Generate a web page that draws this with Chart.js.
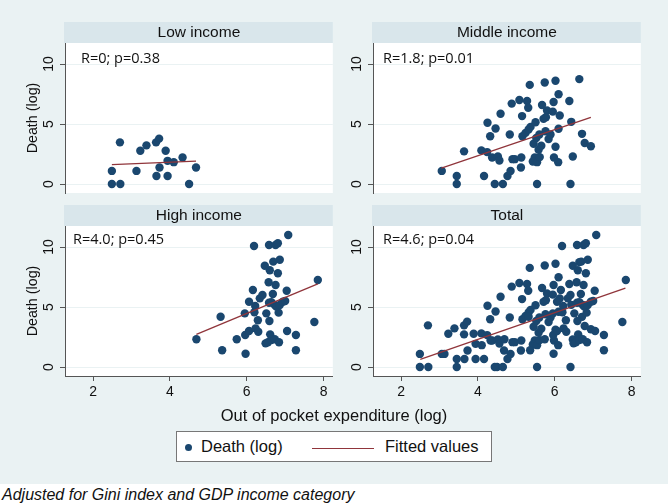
<!DOCTYPE html>
<html>
<head>
<meta charset="utf-8">
<script src="https://cdn.jsdelivr.net/npm/chart.js@4.4.1/dist/chart.umd.min.js"></script>
<style>
  body { margin: 0; width: 668px; height: 504px; background: #fff; position: relative; overflow: hidden;
         font-family: "Liberation Sans", Arial, sans-serif; }
  #bg { position: absolute; left: 0; top: 0; width: 668px; height: 484px; background: #eaf2f3; }
  .pane { position: absolute; }
  #xtitle { position: absolute; left: 0; width: 668px; top: 406px; text-align: center; font-size: 16.5px; color: #111; }
  #legend { position: absolute; left: 176px; top: 431px; width: 314px; height: 29px; background: #fff;
            border: 1px solid #777; font-size: 16.5px; color: #111; }
  #legend .dot { position: absolute; left: 8px; top: 12px; width: 7px; height: 7px; border-radius: 50%; background: #1a476f; }
  #legend .t1 { position: absolute; left: 24px; top: 5px; }
  #legend .ln { position: absolute; left: 135px; top: 16px; width: 62px; height: 0; border-top: 1.3px solid #90353b; }
  #legend .t2 { position: absolute; left: 208px; top: 5px; }
  #foot { position: absolute; left: 2px; top: 486px; font-size: 16px; font-style: italic; color: #111; }
</style>
</head>
<body>
<div id="bg"></div>
<div class="pane" style="left:0;top:0;width:337px;height:200px"><canvas id="c1"></canvas></div>
<div class="pane" style="left:337px;top:0;width:308px;height:200px"><canvas id="c2"></canvas></div>
<div class="pane" style="left:0;top:200px;width:337px;height:210px"><canvas id="c3"></canvas></div>
<div class="pane" style="left:337px;top:200px;width:308px;height:210px"><canvas id="c4"></canvas></div>
<div id="xtitle">Out of pocket expenditure (log)</div>
<div id="legend"><div class="dot"></div><span class="t1">Death (log)</span><div class="ln"></div><span class="t2">Fitted values</span></div>
<div id="foot">Adjusted for Gini index and GDP income category</div>
<script>
const panelTitles = ['Low income', 'Middle income', 'High income', 'Total'];
const notes = ['R=0; p=0.38', 'R=1.8; p=0.01', 'R=4.0; p=0.45', 'R=4.6; p=0.04'];
const xTicks = [2, 4, 6, 8];
const yTicks = [0, 5, 10];

const lowX = [2.70,2.49,2.49,2.71,3.13,3.23,3.39,3.64,3.72,3.89,3.73,3.65,3.94,3.94,4.10,4.33,4.68,4.50];
const lowY = [3.47,1.09,0,0,1.09,2.77,3.22,3.47,3.78,2.77,1.37,0.67,0.67,1.93,1.82,2.21,1.37,0];

const midX = [3.06,3.45,3.45,3.64,4.09,4.24,4.16,4.25,4.46,4.32,4.37,4.52,4.56,4.44,4.65,4.59,4.83,4.88,4.77,4.85,
  4.90,4.96,5.08,5.15,5.28,5.31,5.35,5.16,5.13,5.12,5.24,5.32,5.37,5.50,5.45,5.52,5.58,5.65,5.48,5.43,
  5.54,5.61,5.54,5.67,5.80,5.74,5.71,5.77,5.60,5.76,5.84,5.89,5.95,6.02,5.97,6.10,6.13,6.10,6.02,5.98,
  6.09,6.38,6.43,6.47,6.41,6.64,6.71,6.78,6.94];
const midY = [1.09,0.67,0,2.72,2.80,2.66,0.67,5.10,4.62,3.98,2.21,2.29,1.96,0,0,5.85,4.12,6.70,0.67,1.09,
  2.07,2.07,7.00,5.66,6.92,6.36,8.26,3.98,2.21,1.37,4.26,4.54,4.76,5.15,3.36,3.84,2.86,3.19,2.21,1.87,
  1.82,2.24,0,6.58,6.13,8.46,5.43,5.57,4.12,4.40,3.75,4.12,6.03,8.60,6.83,7.48,5.71,4.60,3.11,2.21,
  1.82,6.92,5.18,2.29,0,8.74,4.18,3.42,3.14];

const highX = [4.69,5.32,5.36,5.74,5.97,5.95,5.96,6.06,6.06,6.20,6.22,6.16,6.19,6.29,6.23,6.30,6.34,6.41,6.47,6.51,
  6.60,6.58,6.68,6.58,6.59,6.64,6.73,6.69,6.75,6.81,6.86,6.81,6.57,6.75,6.83,6.77,6.86,6.94,7.00,7.04,
  7.08,6.61,6.49,6.55,6.64,6.73,6.84,7.05,7.28,7.28,7.76,7.85];
const highY = [2.31,4.19,1.39,2.31,1.11,4.47,2.67,3.00,5.44,4.56,5.08,6.42,10.08,3.89,3.22,2.94,5.72,6.00,8.44,4.47,
  8.06,10.17,6.08,5.36,3.83,5.39,5.17,8.78,10.17,10.31,8.94,7.81,7.06,6.83,4.53,5.03,5.17,5.44,5.50,6.36,
  11.0,2.72,1.97,2.06,2.25,2.31,2.06,3.00,2.67,1.39,3.75,7.25];

// total panel = all countries
const totalX = lowX.concat(midX, highX);
const totalY = lowY.concat(midY, highY);

const lowFitX = [2.49, 4.68], lowFitY = [1.62, 1.90];
const midFitX = [3.05, 6.94], midFitY = [1.32, 5.55];
const highFitX = [4.69, 7.85], highFitY = [2.72, 6.92];
const totalFitX = [2.50, 7.84], totalFitY = [0.64, 6.58];

Chart.defaults.font.family = '"Liberation Sans", Arial, sans-serif';
Chart.defaults.color = '#111';

const navy = '#1a476f';
const maroon = '#90353b';
const axisCol = '#555';

function pts(xs, ys) {
  return xs.map((x, i) => ({ x: x, y: ys[i] }));
}

const panelDeco = {
  id: 'panelDeco',
  beforeDraw(chart) {
    const { ctx, chartArea: a } = chart;
    const o = chart.options.plugins.panelDeco;
    ctx.save();
    ctx.fillStyle = '#ffffff';
    ctx.fillRect(a.left, a.top, a.right - a.left, a.bottom - a.top);
    ctx.fillStyle = '#d9e6eb';
    ctx.fillRect(a.left - 1, a.top - 21, a.right - a.left + 1, 21);
    ctx.fillStyle = '#111';
    ctx.font = '15.5px "Liberation Sans", Arial, sans-serif';
    ctx.textAlign = 'center';
    ctx.textBaseline = 'middle';
    ctx.fillText(o.title, (a.left + a.right) / 2, a.top - 10);
    ctx.restore();
  },
  afterDraw(chart) {
    const { ctx, chartArea: a } = chart;
    const o = chart.options.plugins.panelDeco;
    ctx.save();
    ctx.fillStyle = '#111';
    ctx.font = '14.5px "Open Sans", sans-serif';
    ctx.textAlign = 'left';
    ctx.textBaseline = 'middle';
    ctx.fillText(o.note, a.left + o.dx, a.top + o.dy);
    ctx.restore();
  }
};

function makePanel(id, idx, xs, ys, fx, fy, cfg) {
  new Chart(document.getElementById(id), {
    type: 'scatter',
    data: {
      datasets: [
        { type: 'line', label: 'Fitted values', data: pts(fx, fy), borderColor: maroon, borderWidth: 1.3,
          pointRadius: 0, fill: false, showLine: true },
        { label: 'Death (log)', data: pts(xs, ys), backgroundColor: navy, borderColor: navy,
          pointRadius: 4.2, borderWidth: 0 }
      ]
    },
    options: {
      responsive: true,
      maintainAspectRatio: false,
      animation: false,
      layout: { padding: { top: cfg.top, bottom: cfg.bottom, left: 0, right: 0 } },
      plugins: {
        legend: { display: false },
        tooltip: { enabled: false },
        panelDeco: { title: panelTitles[idx], note: notes[idx], dx: cfg.dx, dy: cfg.dy }
      },
      scales: {
        x: {
          type: 'linear', min: 1.27, max: 8.24,
          display: cfg.showX,
          afterBuildTicks: s => { s.ticks = xTicks.map(v => ({ value: v })); },
          afterFit: s => { s.height = cfg.xH; s.paddingLeft = 0; s.paddingRight = 0; },
          grid: { drawOnChartArea: false, tickLength: 5, tickColor: axisCol },
          border: { color: axisCol, width: 1 },
          ticks: { padding: 3, font: { size: 14 }, color: '#111' }
        },
        y: {
          type: 'linear', min: -0.75, max: 11.75,
          afterBuildTicks: s => { s.ticks = yTicks.map(v => ({ value: v })); },
          afterFit: s => { s.width = cfg.yW; s.paddingTop = 0; s.paddingBottom = 0; },
          grid: { color: '#eaf2f3', lineWidth: 1, tickLength: 5, tickColor: axisCol },
          border: { color: axisCol, width: 1 },
          ticks: { padding: 3, minRotation: 90, maxRotation: 90, crossAlign: 'center',
                   font: { size: 14 }, color: '#111' },
          title: { display: cfg.yTitle, text: 'Death (log)', font: { size: 14.3 }, color: '#111',
                   padding: { top: 24, bottom: 0 } }
        }
      }
    },
    plugins: [panelDeco]
  });
}

makePanel('c1', 0, lowX, lowY, lowFitX, lowFitY,
  { top: 43, bottom: 7, showX: false, xH: 0, yW: 65, yTitle: true, dx: 16, dy: 16 });
makePanel('c2', 1, midX, midY, midFitX, midFitY,
  { top: 43, bottom: 7, showX: false, xH: 0, yW: 36, yTitle: false, dx: 10, dy: 16 });
makePanel('c3', 2, highX, highY, highFitX, highFitY,
  { top: 26, bottom: 0, showX: true, xH: 34, yW: 65, yTitle: true, dx: 8, dy: 14 });
makePanel('c4', 3, totalX, totalY, totalFitX, totalFitY,
  { top: 26, bottom: 0, showX: true, xH: 34, yW: 36, yTitle: false, dx: 10, dy: 14 });
</script>
</body>
</html>
